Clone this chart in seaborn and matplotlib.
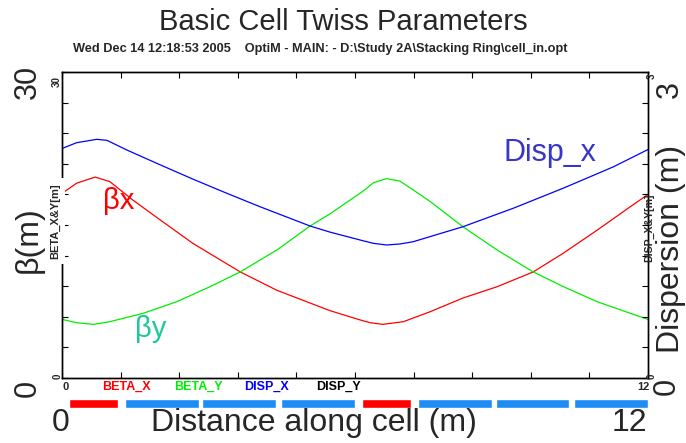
import numpy as np
import pandas as pd
import matplotlib
matplotlib.use("Agg")
import matplotlib.pyplot as plt
import seaborn as sns

# ---------------- data ----------------
s_beta_x = [0.0, 0.30, 0.68, 0.98, 1.45, 2.01, 2.68, 3.65, 4.40, 5.08, 5.49, 6.10,
            6.31, 6.57, 6.99, 7.54, 8.21, 8.91, 9.65, 10.27, 10.96, 11.64, 12.0]
beta_x = [18.1, 19.1, 19.7, 19.25, 17.45, 15.5, 13.2, 10.4, 8.6, 7.35, 6.6, 5.7,
          5.42, 5.26, 5.52, 6.5, 7.84, 8.95, 10.4, 12.25, 14.5, 16.8, 18.0]

s_beta_y = [0.0, 0.30, 0.64, 0.98, 1.66, 2.35, 3.03, 3.65, 4.40, 5.08, 5.49, 6.16,
            6.38, 6.65, 6.92, 7.19, 7.54, 8.21, 8.91, 9.65, 10.27, 10.96, 11.64, 12.0]
beta_y = [5.75, 5.42, 5.26, 5.52, 6.34, 7.48, 8.95, 10.4, 12.55, 14.9, 16.1, 18.3,
          19.15, 19.55, 19.3, 18.45, 17.3, 14.83, 12.55, 10.4, 8.95, 7.48, 6.34, 5.75]

s_disp_x = [0.0, 0.30, 0.71, 0.92, 1.33, 2.01, 2.68, 3.38, 4.05, 5.08, 5.49, 6.16,
            6.38, 6.65, 6.92, 7.19, 8.21, 9.24, 10.26, 11.29, 12.0]
disp_x = [2.25, 2.307, 2.34, 2.33, 2.235, 2.09, 1.95, 1.81, 1.68, 1.49, 1.43, 1.346,
          1.32, 1.304, 1.314, 1.336, 1.483, 1.664, 1.86, 2.07, 2.24]

elem_start = [0.15, 1.30, 2.87, 4.48, 6.15, 7.30, 8.88, 10.48]
elem_length = [1.0, 1.51, 1.51, 1.51, 1.0, 1.51, 1.51, 1.51]
elem_kind = ["quad", "dipole", "dipole", "dipole", "quad", "dipole", "dipole", "dipole"]

legend_labels = ["BETA_X", "BETA_Y", "DISP_X", "DISP_Y"]
title = "Basic Cell Twiss Parameters"
subtitle = "Wed Dec 14 12:18:53 2005    OptiM - MAIN: - D:\\Study 2A\\Stacking Ring\\cell_in.opt"

# ---------------- style ----------------
sns.set_style("white")
plt.rcParams["font.family"] = ["Liberation Sans", "DejaVu Sans"]

W, H = 686, 443
fig = plt.figure(figsize=(W / 100, H / 100), dpi=100)
L, R, T, B = 62, 648, 72, 378
ax = fig.add_axes([L / W, 1 - B / H, (R - L) / W, (B - T) / H])

def fx(x):
    return x / W

def fy(y):
    return 1 - y / H

df_beta = pd.DataFrame({
    "s": s_beta_x + s_beta_y,
    "value": beta_x + beta_y,
    "series": ["BETA_X"] * len(s_beta_x) + ["BETA_Y"] * len(s_beta_y),
})
sns.lineplot(data=df_beta, x="s", y="value", hue="series",
             palette={"BETA_X": "#ff0000", "BETA_Y": "#00ee00"},
             estimator=None, sort=False, legend=False, linewidth=0.9, ax=ax)
ax.set_xlim(0, 12)
ax.set_ylim(0, 30)

ax2 = ax.twinx()
sns.lineplot(x=s_disp_x, y=disp_x, color="#0000ff", estimator=None, sort=False,
             linewidth=0.9, ax=ax2)
ax2.set_ylim(0, 3)
ax2.set_xlim(0, 12)

for a in (ax, ax2):
    a.set_xlabel("")
    a.set_ylabel("")
    for sp in a.spines.values():
        sp.set_color("black")
        sp.set_linewidth(1.0)

ax.set_xticks(np.arange(0, 12.01, 1.2))
ax.set_yticks(np.arange(0, 30.01, 3))
ax2.set_yticks(np.arange(0, 3.001, 0.3))
ax.tick_params(axis="both", direction="in", length=4, width=0.8, color="black",
               top=True, bottom=True, left=True, right=False,
               labelleft=False, labelbottom=False)
ax2.tick_params(axis="y", direction="in", length=4, width=0.8, color="black",
                right=True, labelright=False)
ax2.tick_params(axis="x", bottom=False, top=False, labelbottom=False)

# element bars below the axis
colors_elem = {"quad": "#ff0000", "dipole": "#1e8cf5"}
for st, ln, kd in zip(elem_start, elem_length, elem_kind):
    ax.broken_barh([(st, ln)], (-2.94, 0.88), facecolors=colors_elem[kd],
                   clip_on=False)

# curve labels
ax.text(1.17, 16.57, "βx", color="#ff0000", fontsize=21, ha="center", va="baseline")
ax.text(1.82, 4.0, "βy", color="#1ec89c", fontsize=21, ha="center", va="baseline")
ax.text(10.0, 21.3, "Disp_x", color="#3636c8", fontsize=22, ha="center", va="baseline")

# titles
fig.text(fx(343), fy(22), title, fontsize=21, ha="center", va="center")
fig.text(fx(320), fy(49), subtitle, fontsize=9.2, fontweight="bold",
         ha="center", va="center")

# big side labels
fig.text(fx(28), fy(82), "30", fontsize=22, rotation=90, ha="center", va="center")
fig.text(fx(29), fy(240), "β(m)", fontsize=23, rotation=90, ha="center", va="center")
fig.text(fx(28), fy(388), "0", fontsize=22, rotation=90, ha="center", va="center")
fig.text(fx(670), fy(90), "3", fontsize=22, rotation=90, ha="center", va="center")
fig.text(fx(670.5), fy(249), "Dispersion (m)", fontsize=23, rotation=90,
         ha="center", va="center")
fig.text(fx(667), fy(386), "0", fontsize=22, rotation=90, ha="center", va="center")

fig.text(fx(314), fy(423), "Distance along cell (m)", fontsize=23,
         ha="center", va="center")
fig.text(fx(61), fy(423), "0", fontsize=23, ha="center", va="center")
fig.text(fx(629), fy(423), "12", fontsize=23, ha="center", va="center")

# small axis annotations
small = dict(fontsize=7, fontweight="bold", ha="center", va="center")
fig.text(fx(57), fy(82), "30", rotation=90, **small)
fig.text(fx(58), fy(376), "0", rotation=90, **small)
fig.text(fx(55), fy(221), "BETA_X&Y[m]", rotation=90, fontsize=8, fontweight="bold",
         ha="center", va="center",
         bbox=dict(facecolor="white", edgecolor="none", pad=3.5))
fig.text(fx(652), fy(76), "3", rotation=90, **small)
fig.text(fx(652), fy(376), "0", rotation=90, **small)
fig.text(fx(649.5), fy(228), "DISP_X&Y[m]", rotation=90, fontsize=7.6,
         fontweight="bold", ha="center", va="center")
fig.text(fx(66), fy(387), "0", fontsize=8, fontweight="bold", ha="center", va="center")
fig.text(fx(643), fy(387), "12", fontsize=8, fontweight="bold", ha="center", va="center")

leg_colors = ["#ff0000", "#00ee00", "#0000ff", "#000000"]
leg_x = [126.5, 198, 266.5, 338.5]
for lab, c, x in zip(legend_labels, leg_colors, leg_x):
    fig.text(fx(x), fy(387), lab, color=c, fontsize=9, fontweight="bold",
             ha="center", va="center")

fig.savefig("out.png", dpi=100)
